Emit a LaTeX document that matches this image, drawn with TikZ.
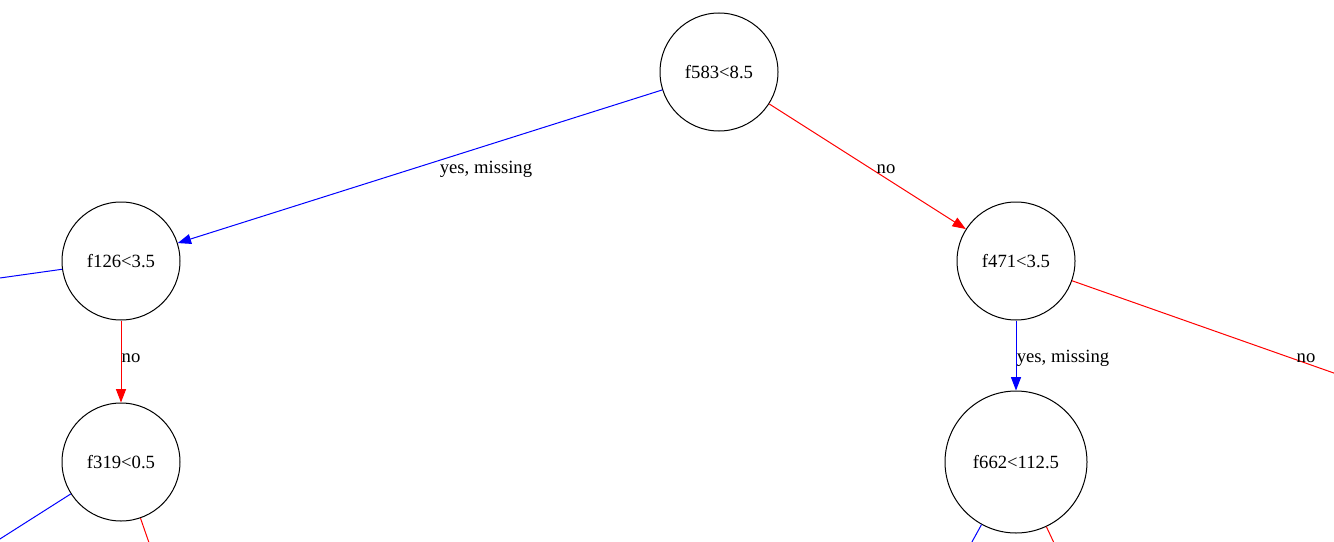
\documentclass[tikz,border=0pt]{standalone}
\usepackage{fontspec}
\setmainfont{Liberation Serif}
\usetikzlibrary{arrows.meta}
\begin{document}
\begin{tikzpicture}[x=0.75pt,y=-0.75pt,
  split/.style={circle,draw=black,line width=0.75pt,inner sep=0pt,minimum size=#1,font=\fontsize{14}{16}\selectfont},
  split/.default=88.5pt,
  yesedge/.style={draw=blue,line width=0.75pt},
  noedge/.style={draw=red,line width=0.75pt},
  tip/.style={-{Triangle[length=10pt,width=7.5pt]}},
  elabel/.style={anchor=base,inner sep=0pt,font=\fontsize{14}{16}\selectfont}]
\useasboundingbox (0,0) rectangle (1334,542);
\clip (0,0) rectangle (1334,542);
\node[split] (n583) at (719,72) {f583<8.5};
\node[split] (n126) at (121,261) {f126<3.5};
\node[split] (n471) at (1016,261) {f471<3.5};
\node[split] (n319) at (121,462) {f319<0.5};
\node[split=106.5pt] (n662) at (1016,462) {f662<112.5};
\coordinate (o126) at (-40,283.6);
\coordinate (o471) at (1380,389.3);
\coordinate (o319a) at (-30,558);
\coordinate (o319b) at (155,560);
\coordinate (o662a) at (962,560);
\coordinate (o662b) at (1062,560);
\draw[yesedge,tip] (n583) -- (n126);
\draw[noedge,tip] (n583) -- (n471);
\draw[noedge,tip] (n126) -- (n319);
\draw[yesedge,tip] (n471) -- (n662);
\draw[noedge] (n471) -- (o471);
\draw[yesedge] (n126) -- (o126);
\draw[yesedge] (n319) -- (o319a);
\draw[noedge] (n319) -- (o319b);
\draw[yesedge] (n662) -- (o662a);
\draw[noedge] (n662) -- (o662b);
\node[elabel] (l1) at (486,173) {yes, missing};
\node[elabel] (l2) at (886,173) {no};
\node[elabel] (l3) at (131,362) {no};
\node[elabel] (l4) at (1063,362) {yes, missing};
\node[elabel] (l5) at (1306,362) {no};
\end{tikzpicture}
\end{document}
